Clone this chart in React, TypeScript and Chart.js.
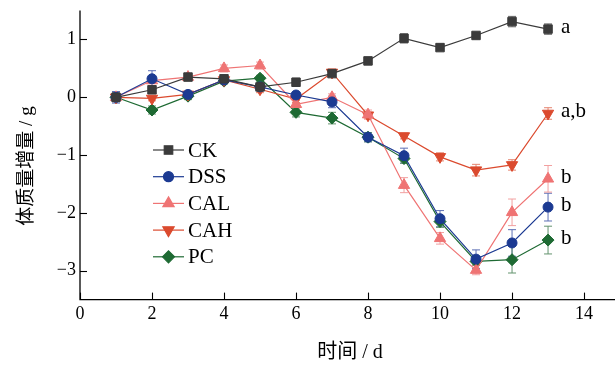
import React, { useEffect, useRef } from 'react';
import { Chart, registerables } from 'chart.js';
import { drawPoint } from 'chart.js/helpers';

Chart.register(...registerables);

// ---- data ----
const days = [1, 2, 3, 4, 5, 6, 7, 8, 9, 10, 11, 12, 13];
const xTicks = [0, 2, 4, 6, 8, 10, 12, 14];
const yTicks = [-3, -2, -1, 0, 1];

const ckValues = [0, 0.13, 0.35, 0.32, 0.18, 0.26, 0.41, 0.63, 1.02, 0.86, 1.07, 1.31, 1.18];
const ckErrors = [0.08, 0.05, 0.06, 0.05, 0.05, 0.07, 0.05, 0.04, 0.08, 0.05, 0.05, 0.09, 0.09];

const dssValues = [0, 0.32, 0.05, 0.3, 0.18, 0.04, -0.08, -0.69, -1.01, -2.1, -2.8, -2.52, -1.9];
const dssErrors = [0.1, 0.14, 0.05, 0.05, 0.06, 0.06, 0.1, 0.08, 0.13, 0.14, 0.16, 0.23, 0.24];

const calValues = [0, 0.29, 0.35, 0.5, 0.55, -0.12, 0.0, -0.3, -1.52, -2.44, -2.99, -1.99, -1.41];
const calErrors = [0.06, 0.05, 0.05, 0.06, 0.06, 0.07, 0.06, 0.08, 0.13, 0.1, 0.08, 0.23, 0.23];

const cahValues = [0, -0.02, 0.05, 0.3, 0.14, -0.03, 0.43, -0.31, -0.67, -1.03, -1.26, -1.17, -0.28];
const cahErrors = [0.05, 0.04, 0.05, 0.05, 0.06, 0.06, 0.06, 0.05, 0.05, 0.07, 0.1, 0.09, 0.1];

const pcValues = [0, -0.22, 0.02, 0.28, 0.33, -0.26, -0.36, -0.69, -1.06, -2.15, -2.84, -2.81, -2.47];
const pcErrors = [0.05, 0.07, 0.06, 0.05, 0.05, 0.08, 0.1, 0.08, 0.08, 0.1, 0.06, 0.23, 0.24];

const seriesNames = ['CK', 'DSS', 'CAL', 'CAH', 'PC'];
const groupLabels = ['a', 'b', 'b', 'a,b', 'b'];

const SERIF = '"Liberation Serif", "Times New Roman", serif';
const CJK = '"Liberation Serif", "Noto Sans CJK SC", serif';

const series = [
  { name: seriesNames[0], data: ckValues, err: ckErrors, color: '#3b3b3b', errColor: '#6a6a6a', style: 'rect', radius: 6, rotation: 0 },
  { name: seriesNames[1], data: dssValues, err: dssErrors, color: '#1c3a92', errColor: '#5d6fb5', style: 'circle', radius: 5, rotation: 0 },
  { name: seriesNames[2], data: calValues, err: calErrors, color: '#ef7474', errColor: '#f2a0a0', style: 'triangle', radius: 6.5, rotation: 0 },
  { name: seriesNames[3], data: cahValues, err: cahErrors, color: '#db4a2e', errColor: '#e58570', style: 'triangle', radius: 6.5, rotation: 180 },
  { name: seriesNames[4], data: pcValues, err: pcErrors, color: '#1e6a33', errColor: '#62936d', style: 'rectRot', radius: 6, rotation: 0 },
];

const decorPlugin = {
  id: 'decor',
  beforeDatasetsDraw(chart: any) {
    const { ctx, chartArea: ca, scales } = chart;
    const x = scales.x;
    const y = scales.y;
    ctx.save();
    // axes
    ctx.strokeStyle = '#000';
    ctx.lineWidth = 1.3;
    ctx.beginPath();
    ctx.moveTo(ca.left, ca.top);
    ctx.lineTo(ca.left, ca.bottom);
    ctx.lineTo(ca.right, ca.bottom);
    ctx.stroke();
    ctx.lineWidth = 1.1;
    xTicks.forEach((t) => {
      const px = Math.round(x.getPixelForValue(t)) + 0.5;
      ctx.beginPath();
      ctx.moveTo(px, ca.bottom);
      ctx.lineTo(px, ca.bottom - 7);
      ctx.stroke();
    });
    yTicks.forEach((t) => {
      const py = Math.round(y.getPixelForValue(t)) + 0.5;
      ctx.beginPath();
      ctx.moveTo(ca.left, py);
      ctx.lineTo(ca.left + 7, py);
      ctx.stroke();
    });
    // error bars
    series.forEach((s) => {
      ctx.strokeStyle = s.errColor;
      ctx.lineWidth = 1;
      s.data.forEach((v, j) => {
        const px = x.getPixelForValue(days[j]);
        const top = y.getPixelForValue(v + s.err[j]);
        const bot = y.getPixelForValue(v - s.err[j]);
        ctx.beginPath();
        ctx.moveTo(px, top);
        ctx.lineTo(px, bot);
        ctx.moveTo(px - 4, top);
        ctx.lineTo(px + 4, top);
        ctx.moveTo(px - 4, bot);
        ctx.lineTo(px + 4, bot);
        ctx.stroke();
      });
    });
    ctx.restore();
  },
  afterDraw(chart: any) {
    const { ctx, chartArea: ca, scales } = chart;
    const x = scales.x;
    const y = scales.y;
    ctx.save();
    // tick labels
    ctx.fillStyle = '#000';
    ctx.font = `18px ${SERIF}`;
    ctx.textAlign = 'center';
    ctx.textBaseline = 'middle';
    xTicks.forEach((t) => {
      ctx.fillText(String(t), x.getPixelForValue(t), ca.bottom + 15);
    });
    ctx.textAlign = 'right';
    yTicks.forEach((t) => {
      const label = t < 0 ? '\u2212' + Math.abs(t) : String(t);
      ctx.fillText(label, ca.left - 4, y.getPixelForValue(t));
    });
    // axis titles
    ctx.font = `20px ${CJK}`;
    ctx.textAlign = 'center';
    ctx.fillText('时间 / d', 350, 353);
    ctx.save();
    ctx.translate(27, 166);
    ctx.rotate(-Math.PI / 2);
    ctx.font = `19px ${CJK}`;
    ctx.fillText('体质量增量 / g', 0, 0);
    ctx.restore();
    // group letters
    ctx.font = `21px ${SERIF}`;
    ctx.textAlign = 'left';
    ctx.textBaseline = 'alphabetic';
    series.forEach((s, i) => {
      const last = s.data.length - 1;
      const py = y.getPixelForValue(s.data[last]);
      ctx.fillText(groupLabels[i], x.getPixelForValue(days[last]) + 13, py + 4);
    });
    // legend
    const lx = 153;
    const ly0 = 150;
    const gap = 26.7;
    series.forEach((s, i) => {
      const ly = ly0 + i * gap;
      ctx.strokeStyle = s.color;
      ctx.lineWidth = 1.2;
      ctx.beginPath();
      ctx.moveTo(lx, ly);
      ctx.lineTo(lx + 31, ly);
      ctx.stroke();
      ctx.fillStyle = s.color;
      drawPoint(ctx, { pointStyle: s.style as any, radius: s.radius, rotation: s.rotation, borderWidth: 1 }, lx + 15.5, ly);
      ctx.fillStyle = '#000';
      ctx.font = `21px ${SERIF}`;
      ctx.textBaseline = 'middle';
      ctx.textAlign = 'left';
      ctx.fillText(s.name, lx + 35, ly + 1);
    });
    ctx.restore();
  },
};

export default function App() {
  const canvasRef = useRef<HTMLCanvasElement | null>(null);

  useEffect(() => {
    document.body.style.margin = '0';
    const canvas = canvasRef.current;
    if (!canvas) return;
    const chart = new Chart(canvas, {
      type: 'line',
      data: {
        datasets: series.map((s) => ({
          label: s.name,
          data: s.data.map((v, j) => ({ x: days[j], y: v })),
          borderColor: s.color,
          backgroundColor: s.color,
          pointBackgroundColor: s.color,
          pointBorderColor: s.color,
          pointStyle: s.style as any,
          pointRadius: s.radius,
          pointRotation: s.rotation,
          pointBorderWidth: 1,
          borderWidth: 1.2,
          tension: 0,
        })),
      },
      options: {
        animation: false,
        responsive: false,
        maintainAspectRatio: false,
        layout: { autoPadding: false, padding: { top: 10.6, right: 0, left: 0, bottom: 0 } },
        plugins: {
          legend: { display: false },
          tooltip: { enabled: false },
        },
        scales: {
          x: {
            type: 'linear',
            min: 0,
            max: 14.86,
            grid: { display: false },
            border: { display: false },
            ticks: { display: false, stepSize: 2, includeBounds: false },
            afterFit: (scale: any) => {
              scale.height = 66.4;
            },
          },
          y: {
            type: 'linear',
            min: -3.5,
            max: 1.5,
            grid: { display: false },
            border: { display: false },
            ticks: { display: false, stepSize: 1, includeBounds: false },
            afterFit: (scale: any) => {
              scale.width = 80;
            },
          },
        },
      },
      plugins: [decorPlugin],
    });
    return () => chart.destroy();
  }, []);

  return (
    <div style={{ position: 'absolute', left: 0, top: 0, width: 615, height: 366, background: '#fff' }}>
      <canvas ref={canvasRef} width={615} height={366} style={{ width: 615, height: 366 }} />
    </div>
  );
}
